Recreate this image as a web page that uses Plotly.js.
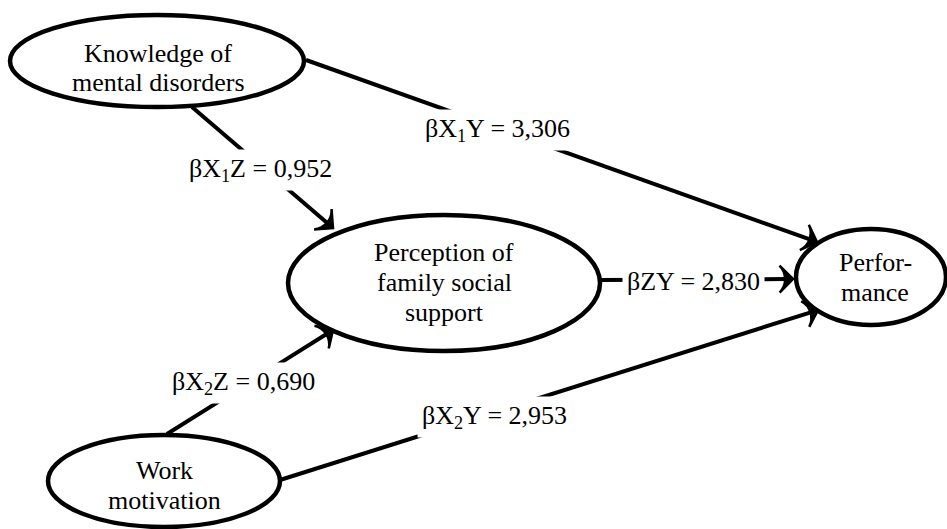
<!DOCTYPE html>
<html>
<head>
<meta charset="utf-8">
<script src="https://cdn.plot.ly/plotly-3.0.1.min.js"></script>
<style>html,body{margin:0;padding:0;background:#fff;}#chart{width:947px;height:529px;}</style>
</head>
<body>
<div id="chart"></div>
<script>
// ---- data ----
const nodeLines = [
  ['Knowledge of', 'mental disorders'],
  ['Perception of', 'family social', 'support'],
  ['Perfor-', 'mance'],
  ['Work', 'motivation']
];
const pathNames = ['βX<sub>1</sub>Y', 'βX<sub>1</sub>Z', 'βX<sub>2</sub>Z', 'βX<sub>2</sub>Y', 'βZY'];
const pathValues = [3.306, 0.952, 0.690, 2.953, 2.830];

// ---- layout geometry (positions, not data) ----
const nodeGeom = [
  {cx: 157, cy: 61, rx: 147, ry: 46, tx: 158, ty: [53, 82]},
  {cx: 444, cy: 283, rx: 156, ry: 68, tx: 444, ty: [252, 282, 312]},
  {cx: 871, cy: 277, rx: 75, ry: 48, tx: 875, ty: [262, 292]},
  {cx: 164, cy: 481, rx: 116, ry: 46, tx: 164, ty: [470, 500]}
];
const pathGeom = [
  {x0: 306, y0: 60, x1: 817, y1: 242, lx: 497, ly: 130},
  {x0: 192, y0: 107, x1: 333, y1: 228, lx: 260, ly: 170},
  {x0: 167, y0: 434, x1: 333, y1: 330, lx: 243, ly: 383},
  {x0: 280, y0: 480, x1: 818, y1: 310, lx: 494, ly: 417},
  {x0: 600, y0: 280, x1: 793, y1: 279, lx: 693, ly: 281}
];
const FONT = {family: '"Liberation Serif", "Times New Roman", Times, serif', size: 26, color: '#000'};

const fmt = v => v.toFixed(3).replace('.', ',');

const shapes = nodeGeom.map(g => ({
  type: 'circle', xref: 'x', yref: 'y', layer: 'above',
  x0: g.cx - g.rx, x1: g.cx + g.rx, y0: g.cy - g.ry, y1: g.cy + g.ry,
  line: {color: '#000', width: 4.5}, fillcolor: 'rgba(0,0,0,0)'
}));

const traces = pathGeom.map(p => ({
  type: 'scatter', mode: 'lines+markers',
  x: [p.x0, p.x1], y: [p.y0, p.y1],
  line: {color: '#000', width: 4},
  marker: {symbol: ['circle', 'arrow-wide'], size: [0, 19], angleref: 'previous',
           color: '#000', opacity: 1, line: {color: '#000', width: 2.5}},
  hoverinfo: 'skip'
}));

const annotations = [];
pathGeom.forEach((p, i) => {
  annotations.push({
    x: p.lx, y: p.ly, xref: 'x', yref: 'y', showarrow: false,
    text: pathNames[i] + ' = ' + fmt(pathValues[i]),
    font: FONT, bgcolor: '#fff', borderpad: 4
  });
});
nodeGeom.forEach((g, i) => {
  nodeLines[i].forEach((line, j) => {
    annotations.push({
      x: g.tx, y: g.ty[j], xref: 'x', yref: 'y', showarrow: false,
      text: line, font: FONT, align: 'center'
    });
  });
});

const layout = {
  width: 947, height: 529,
  margin: {l: 0, r: 0, t: 0, b: 0},
  paper_bgcolor: '#fff', plot_bgcolor: '#fff',
  xaxis: {range: [0, 947], visible: false, fixedrange: true},
  yaxis: {range: [529, 0], visible: false, fixedrange: true},
  shapes: shapes, annotations: annotations, showlegend: false
};
Plotly.newPlot('chart', traces, layout, {displayModeBar: false, staticPlot: true});
</script>
</body>
</html>
